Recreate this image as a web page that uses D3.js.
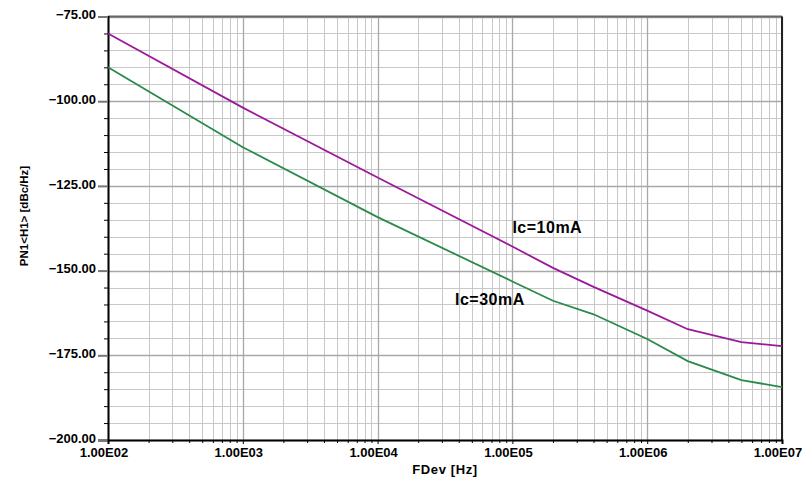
<!DOCTYPE html>
<html><head><meta charset="utf-8">
<script src="https://cdn.jsdelivr.net/npm/d3@7"></script>
<style>
body{margin:0;background:#fff;}
svg text{font-family:"Liberation Sans",Arial,sans-serif;font-weight:bold;fill:#000;}
</style></head>
<body><svg id="c" width="802" height="478"></svg>
<script>
const freq = [1e2, 1e3, 1e4, 1e5, 2e5, 4e5, 1e6, 2e6, 5e6, 1e7];
const ic10 = [-80, -101.9, -122.5, -142.9, -149.2, -154.8, -161.8, -167.3, -171.1, -172.3];
const ic30 = [-90, -113.6, -134.2, -153.2, -158.9, -162.9, -170.2, -176.7, -182.3, -184.4];
const seriesNames = ["Ic=10mA", "Ic=30mA"];
const labelAnchors = [[1e5, -138.9], [3.75e4, -160.1]];
const yTicks = [-200, -175, -150, -125, -100, -75];
const xTicks = [1e2, 1e3, 1e4, 1e5, 1e6, 1e7];
const xTickLabels = ["1.00E02", "1.00E03", "1.00E04", "1.00E05", "1.00E06", "1.00E07"];
const xTitle = "FDev [Hz]";
const yTitle = "PN1<H1> [dBc/Hz]";

const L = 108, R = 782, T = 16.5, B = 440;
const svg = d3.select("#c");
const x = d3.scaleLog().domain([1e2, 1e7]).range([L, R]);
const y = d3.scaleLinear().domain([-200, -75]).range([B, T]);

const xMinor = [];
for (let e = 2; e < 7; e++) for (let m = 2; m <= 9; m++) xMinor.push(m * Math.pow(10, e));
const yMinor = d3.range(-195, -75, 5).filter(v => v % 25 !== 0);

const g = svg.append("g");
g.selectAll(".vm").data(xMinor).join("line")
  .attr("x1", d => Math.round(x(d)) + 0.5).attr("x2", d => Math.round(x(d)) + 0.5)
  .attr("y1", T).attr("y2", B).attr("stroke", "#c8c8c8").attr("stroke-width", 1);
g.selectAll(".hm").data(yMinor).join("line")
  .attr("y1", d => Math.round(y(d)) + 0.5).attr("y2", d => Math.round(y(d)) + 0.5)
  .attr("x1", L).attr("x2", R).attr("stroke", "#c8c8c8").attr("stroke-width", 1);
g.selectAll(".vM").data(xTicks).join("line")
  .attr("x1", d => Math.round(x(d)) + 0.5).attr("x2", d => Math.round(x(d)) + 0.5)
  .attr("y1", T).attr("y2", B).attr("stroke", "#a8a8a8").attr("stroke-width", 1.3);
g.selectAll(".hM").data(yTicks).join("line")
  .attr("y1", d => Math.round(y(d)) + 0.5).attr("y2", d => Math.round(y(d)) + 0.5)
  .attr("x1", L).attr("x2", R).attr("stroke", "#a8a8a8").attr("stroke-width", 1.3);

svg.append("line").attr("x1", L).attr("x2", R).attr("y1", T).attr("y2", T).attr("stroke", "#666").attr("stroke-width", 2);
svg.append("line").attr("x1", R).attr("x2", R).attr("y1", T).attr("y2", B).attr("stroke", "#222").attr("stroke-width", 2);

const yAxis = d3.axisLeft(y).tickValues(yTicks).tickFormat(d3.format(".2f")).tickSize(10).tickPadding(2);
const ya = svg.append("g").attr("transform", `translate(${L},0)`).call(yAxis);
ya.select(".domain").attr("stroke", "#000").attr("stroke-width", 2);
ya.selectAll(".tick line").attr("stroke", "#777").attr("stroke-width", 2);
ya.selectAll("text").attr("font-size", 13).attr("font-family", "Liberation Sans, Arial, sans-serif")
  .attr("font-weight", "bold").attr("fill", "#000").attr("y", -2);
const yMinAxis = d3.axisLeft(y).tickValues(yMinor).tickFormat("").tickSize(4);
const yma = svg.append("g").attr("transform", `translate(${L},0)`).call(yMinAxis);
yma.select(".domain").remove();
yma.selectAll(".tick line").attr("stroke", "#000").attr("stroke-width", 1);

const xAxis = d3.axisBottom(x).tickValues(xTicks).tickFormat((d, i) => xTickLabels[i]).tickSize(4).tickPadding(4);
const xa = svg.append("g").attr("transform", `translate(0,${B})`).call(xAxis);
xa.select(".domain").attr("stroke", "#000").attr("stroke-width", 2);
xa.selectAll(".tick line").attr("stroke", "#000");
xa.selectAll("text").attr("font-size", 13).attr("font-family", "Liberation Sans, Arial, sans-serif")
  .attr("font-weight", "bold").attr("fill", "#000").attr("dx", -4.5);
const xMinAxis = d3.axisBottom(x).tickValues(xMinor).tickFormat("").tickSize(3);
const xma = svg.append("g").attr("transform", `translate(0,${B})`).call(xMinAxis);
xma.select(".domain").remove();
xma.selectAll(".tick line").attr("stroke", "#000");

const line = d3.line().x((d, i) => x(freq[i])).y(d => y(d));
svg.append("path").datum(ic10).attr("d", line).attr("fill", "none").attr("stroke", "#9b1a9b").attr("stroke-width", 1.8);
svg.append("path").datum(ic30).attr("d", line).attr("fill", "none").attr("stroke", "#2a8a4a").attr("stroke-width", 1.8);

svg.selectAll(".lbl").data(seriesNames).join("text")
  .attr("x", (d, i) => x(labelAnchors[i][0])).attr("y", (d, i) => y(labelAnchors[i][1]))
  .attr("font-size", 16).attr("letter-spacing", 0.5).text(d => d);

svg.append("text").attr("x", (L + R) / 2).attr("y", 474).attr("text-anchor", "middle")
  .attr("font-size", 13).attr("letter-spacing", 0.6).text(xTitle);
svg.append("text").attr("transform", "translate(28,216) rotate(-90)").attr("text-anchor", "middle").attr("font-size", 11.5).text(yTitle);
</script></body></html>
